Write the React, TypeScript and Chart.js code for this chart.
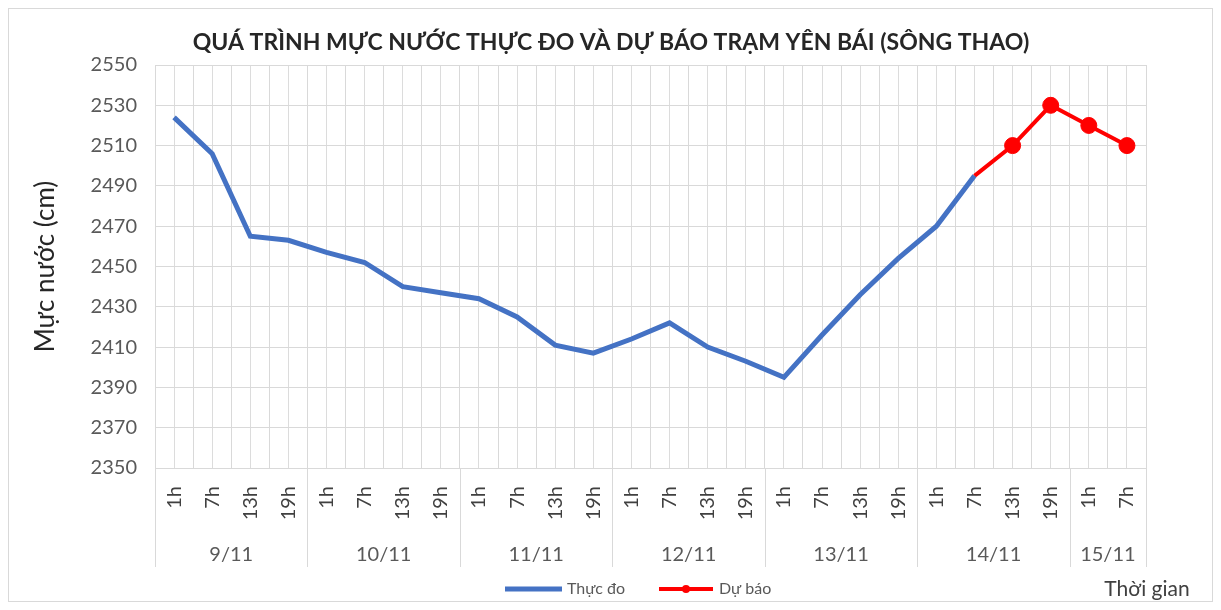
import React, { useEffect, useRef } from "react";
import { Chart, registerables } from "chart.js";

Chart.register(...registerables);

const categories = [
  "1h", "7h", "13h", "19h",
  "1h", "7h", "13h", "19h",
  "1h", "7h", "13h", "19h",
  "1h", "7h", "13h", "19h",
  "1h", "7h", "13h", "19h",
  "1h", "7h", "13h", "19h",
  "1h", "7h",
];
const groupLabels = ["9/11", "10/11", "11/11", "12/11", "13/11", "14/11", "15/11"];
const groupSizes = [4, 4, 4, 4, 4, 4, 2];

const observed = [
  2524, 2506, 2465, 2463,
  2457, 2452, 2440, 2437,
  2434, 2425, 2411, 2407,
  2414, 2422, 2410, 2403,
  2395, 2416, 2436, 2454,
  2470, 2495, null, null,
  null, null,
];
const forecast = [
  null, null, null, null,
  null, null, null, null,
  null, null, null, null,
  null, null, null, null,
  null, null, null, null,
  null, 2495, 2510, 2530,
  2520, 2510,
];
const forecastRadius = forecast.map((v, i) => (v === null || i === 21 ? 0 : 8));

const yMin = 2350;
const yMax = 2550;
const yStep = 20;

const titleText = "QUÁ TRÌNH MỰC NƯỚC THỰC ĐO VÀ DỰ BÁO TRẠM YÊN BÁI (SÔNG THAO)";
const yTitle = "Mực nước (cm)";
const xTitle = "Thời gian";
const seriesNames = ["Thực đo", "Dự báo"];

const BLUE = "#4472C4";
const RED = "#FF0000";
const FONT = "Lato, 'Open Sans', sans-serif";
const GRID = "#d9d9d9";

const decorPlugin = {
  id: "decor",
  afterDraw(chart: any) {
    const { ctx, chartArea } = chart;
    const xs = chart.scales.x;
    const w = xs.getPixelForValue(1) - xs.getPixelForValue(0);
    const sepBottom = 558;
    ctx.save();
    ctx.strokeStyle = GRID;
    ctx.lineWidth = 1;
    let start = 0;
    const bounds: number[] = [xs.getPixelForValue(0) - w / 2];
    groupSizes.forEach((s) => {
      start += s;
      bounds.push(xs.getPixelForValue(start - 1) + w / 2);
    });
    bounds.forEach((b) => {
      const x = Math.round(b) + 0.5;
      ctx.beginPath();
      ctx.moveTo(x, chartArea.bottom);
      ctx.lineTo(x, sepBottom);
      ctx.stroke();
    });
    ctx.fillStyle = "#595959";
    ctx.font = `20px ${FONT}`;
    ctx.textAlign = "center";
    ctx.textBaseline = "middle";
    groupLabels.forEach((g, i) => {
      ctx.fillText(g, (bounds[i] + bounds[i + 1]) / 2, 546);
    });
    ctx.fillStyle = "#404040";
    ctx.font = `21px ${FONT}`;
    ctx.fillText(xTitle, 1138, 580);
    ctx.fillStyle = "#262626";
    ctx.font = `bold 23px ${FONT}`;
    ctx.fillText(titleText, 602, 34);
    const ly = 580;
    ctx.font = `16px ${FONT}`;
    ctx.textAlign = "left";
    ctx.fillStyle = "#595959";
    ctx.strokeStyle = BLUE;
    ctx.lineWidth = 5;
    ctx.beginPath();
    ctx.moveTo(496, ly);
    ctx.lineTo(553, ly);
    ctx.stroke();
    ctx.fillText(seriesNames[0], 558, ly);
    ctx.strokeStyle = RED;
    ctx.lineWidth = 4;
    ctx.beginPath();
    ctx.moveTo(650, ly);
    ctx.lineTo(704, ly);
    ctx.stroke();
    ctx.fillStyle = RED;
    ctx.beginPath();
    ctx.arc(677, ly, 4, 0, Math.PI * 2);
    ctx.fill();
    ctx.fillStyle = "#595959";
    ctx.fillText(seriesNames[1], 710, ly);
    ctx.restore();
  },
};

export default function App() {
  const ref = useRef<HTMLCanvasElement | null>(null);
  useEffect(() => {
    if (!ref.current) return;
    const chart = new Chart(ref.current, {
      type: "line",
      data: {
        labels: categories,
        datasets: [
          {
            label: seriesNames[0],
            data: observed,
            borderColor: BLUE,
            backgroundColor: BLUE,
            borderWidth: 5,
            pointRadius: 0,
            tension: 0,
            spanGaps: false,
          },
          {
            label: seriesNames[1],
            data: forecast,
            borderColor: RED,
            backgroundColor: RED,
            borderWidth: 4,
            pointRadius: forecastRadius,
            pointBorderWidth: 1,
            pointBackgroundColor: RED,
            pointBorderColor: RED,
            tension: 0,
          },
        ],
      },
      options: {
        animation: false,
        responsive: false,
        maintainAspectRatio: false,
        layout: { padding: { top: 56, left: 0, right: 66, bottom: 0 } },
        plugins: {
          legend: { display: false },
          title: { display: false },
          tooltip: { enabled: false },
        },
        scales: {
          x: {
            type: "category",
            offset: true,
            grid: { offset: true, color: GRID, drawTicks: false },
            border: { display: true, color: GRID },
            ticks: {
              autoSkip: false,
              minRotation: 90,
              maxRotation: 90,
              padding: 18,
              color: "#404040",
              font: { family: FONT, size: 20 },
            },
            afterFit: (s: any) => {
              s.height = 133;
            },
          },
          x2: {
            type: "category",
            position: "bottom",
            offset: true,
            grid: { offset: false, color: "#dcdcdc", drawTicks: false },
            border: { display: false },
            ticks: { display: false },
            afterFit: (s: any) => {
              s.height = 0;
            },
          },
          y: {
            min: yMin,
            max: yMax,
            ticks: {
              stepSize: yStep,
              padding: 18,
              color: "#595959",
              font: { family: FONT, size: 20 },
              callback: (v: any) => String(v),
            },
            grid: { color: GRID, drawTicks: false },
            border: { display: false },
            title: {
              display: true,
              text: yTitle,
              color: "#262626",
              font: { family: FONT, size: 26 },
              padding: { top: 21, bottom: 0 },
            },
            afterFit: (s: any) => {
              s.width = 146;
            },
          },
        },
      },
      plugins: [decorPlugin],
    });
    return () => chart.destroy();
  }, []);
  return (
    <div style={{ width: 1203, height: 592, border: "1px solid #d9d9d9", background: "#fff" }}>
      <canvas ref={ref} width={1203} height={592} style={{ display: "block" }} />
    </div>
  );
}
